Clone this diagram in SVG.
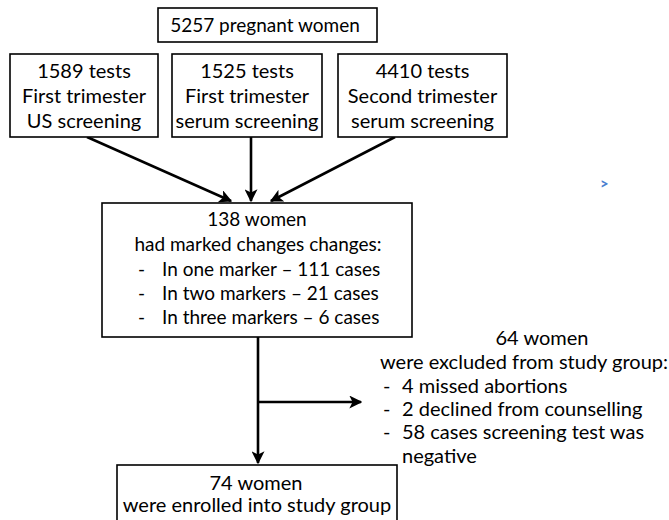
<svg xmlns="http://www.w3.org/2000/svg" width="669" height="520" viewBox="0 0 669 520">
  <style>
    .box { fill: #ffffff; stroke: #000000; stroke-width: 1.6; }
    .t { font-family: Lato, "Liberation Sans", sans-serif; font-size: 20px; fill: #000000; }
    .s { font-size: 19px; }
    .c { text-anchor: middle; }
    .conn { stroke: #000000; stroke-width: 2.6; fill: none; }
  </style>
  <defs>
    <marker id="arrow" viewBox="0 0 10 10" refX="9" refY="5" markerWidth="5" markerHeight="5" markerUnits="strokeWidth" orient="auto">
      <path d="M0,0 L10,5 L0,10 L2.5,5 Z" fill="#000000"/>
    </marker>
  </defs>

  <rect width="669" height="520" fill="#ffffff"/>

  <!-- connectors -->
  <g id="connectors">
    <line class="conn" x1="87" y1="137" x2="231" y2="201" marker-end="url(#arrow)"/>
    <line class="conn" x1="251" y1="137" x2="251" y2="201" marker-end="url(#arrow)"/>
    <line class="conn" x1="395" y1="137" x2="271" y2="201" marker-end="url(#arrow)"/>
    <line class="conn" x1="258" y1="337" x2="258" y2="463" marker-end="url(#arrow)"/>
    <line class="conn" x1="258" y1="402" x2="361" y2="402" marker-end="url(#arrow)"/>
  </g>

  <g id="total">
    <rect class="box" x="158" y="8" width="219" height="34"/>
    <text class="t s c" x="265" y="32">5257 pregnant women</text>
  </g>

  <g id="us-first">
    <rect class="box" x="10" y="54" width="148" height="83"/>
    <text class="t c" x="84" y="78">1589 tests</text>
    <text class="t c" x="84" y="103">First trimester</text>
    <text class="t c" x="84" y="128">US screening</text>
  </g>

  <g id="serum-first">
    <rect class="box" x="172" y="54" width="150" height="83"/>
    <text class="t c" x="247" y="78">1525 tests</text>
    <text class="t c" x="247" y="103">First trimester</text>
    <text class="t c" x="247" y="128">serum screening</text>
  </g>

  <g id="serum-second">
    <rect class="box" x="338" y="54" width="169" height="83"/>
    <text class="t c" x="422.5" y="78">4410 tests</text>
    <text class="t c" x="422.5" y="103">Second trimester</text>
    <text class="t c" x="422.5" y="128">serum screening</text>
  </g>

  <g id="marked">
    <rect class="box" x="102" y="203" width="310" height="134"/>
    <text class="t s c" x="257" y="226">138 women</text>
    <text class="t s c" x="258" y="251">had marked changes changes:</text>
    <text class="t s" x="138" y="276">-</text>
    <text class="t s" x="162" y="276">In one marker – 111 cases</text>
    <text class="t s" x="138" y="300">-</text>
    <text class="t s" x="162" y="300">In two markers – 21 cases</text>
    <text class="t s" x="138" y="324">-</text>
    <text class="t s" x="162" y="324">In three markers – 6 cases</text>
  </g>

  <g id="excluded">
    <text class="t c" x="542" y="345">64 women</text>
    <text class="t" x="380" y="369">were excluded from study group:</text>
    <text class="t" x="383" y="393">-</text>
    <text class="t" x="402" y="393">4 missed abortions</text>
    <text class="t" x="383" y="416">-</text>
    <text class="t" x="402" y="416">2 declined from counselling</text>
    <text class="t" x="383" y="439">-</text>
    <text class="t" x="402" y="439">58 cases screening test was</text>
    <text class="t" x="402" y="463">negative</text>
  </g>

  <g id="enrolled">
    <rect class="box" x="117" y="465" width="280" height="62"/>
    <text class="t c" x="256" y="490">74 women</text>
    <text class="t c" x="257" y="512">were enrolled into study group</text>
  </g>

  <text x="600" y="189" font-family="Lato, 'Liberation Sans', sans-serif" font-size="15px" font-weight="bold" fill="#4a7fd0">&gt;</text>
</svg>
